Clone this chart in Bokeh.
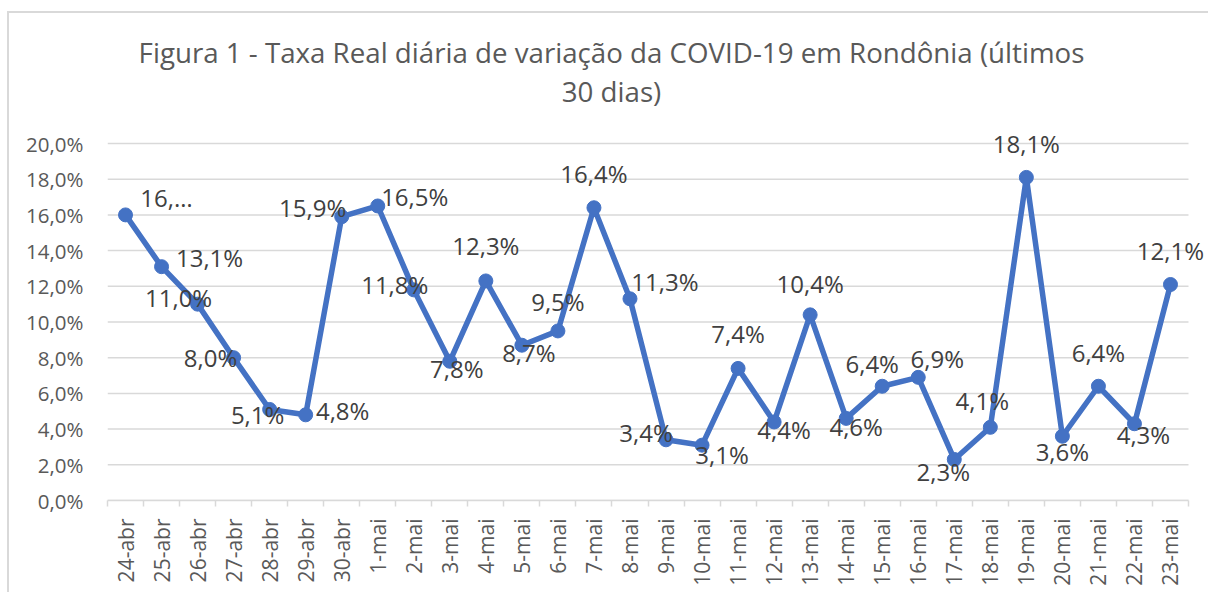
from bokeh.plotting import figure
from bokeh.models import (ColumnDataSource, FixedTicker, Range1d, LabelSet, Label,
                          InlineStyleSheet)
from bokeh.core.properties import value
from bokeh.embed import file_html
from bokeh.resources import INLINE

# ---- data ----
dates = ["24-abr", "25-abr", "26-abr", "27-abr", "28-abr", "29-abr", "30-abr",
         "1-mai", "2-mai", "3-mai", "4-mai", "5-mai", "6-mai", "7-mai", "8-mai",
         "9-mai", "10-mai", "11-mai", "12-mai", "13-mai", "14-mai", "15-mai",
         "16-mai", "17-mai", "18-mai", "19-mai", "20-mai", "21-mai", "22-mai", "23-mai"]
taxa = [16.0, 13.1, 11.0, 8.0, 5.1, 4.8, 15.9, 16.5, 11.8, 7.8, 12.3, 8.7, 9.5, 16.4,
        11.3, 3.4, 3.1, 7.4, 4.4, 10.4, 4.6, 6.4, 6.9, 2.3, 4.1, 18.1, 3.6, 6.4, 4.3, 12.1]
y_ticks = [0, 2, 4, 6, 8, 10, 12, 14, 16, 18, 20]
title_lines = ["Figura 1 - Taxa Real diária de variação da COVID-19 em Rondônia (últimos",
               "30 dias)"]

# data-label placement (screen-pixel offsets from each point; negative dy = above)
label_dx = [41, 48, -19, -23, -12, 37, -29, 37, -19, 7, 0, 7, 0, 0, 35,
            -20, 20, 0, 10, 0, 10, -10, 19, -11, -8, 0, 0, 0, 9, 0]
label_dy = [-17, -9, -7, 0, 5, -4, -9, -9, -5, 7, -35, 7, -29, -34, -17,
            -7, 9, -35, 8, -31, 8, -23, -19, 12, -27, -34, 15, -34, 11, -34]

def fmt(v):
    return f"{v:.1f}".replace(".", ",") + "%"

labels = [fmt(v) for v in taxa]
labels[0] = "16,\u2026"  # truncated label as in the original

FONT = "Open Sans"
GREY = "#595959"
BLUE = "#4472C4"

# ---- geometry (pixels) ----
W, H = 1208, 592
LEFT, BOTTOM = 107, 92          # plot-area left edge / space below it
PLOT_W = 1081                   # width of the category area
PLOT_H = 357                    # height of the 0..20 % area
n = len(dates)
px_x = PLOT_W / n               # pixels per category
px_y = PLOT_H / y_ticks[-1]     # pixels per percentage point
frame_w = W - LEFT
frame_h = H - BOTTOM

xs = [i + 0.5 for i in range(n)]
src = ColumnDataSource(dict(x=xs, y=taxa, lab=labels, dx=label_dx,
                            dy=[-d for d in label_dy]))

# light chart-area border (left and top edges, as in the cropped original)
border_css = InlineStyleSheet(css="""
:host::after {
  content: "";
  position: absolute;
  left: 7px; top: 11px; right: 0; bottom: 0;
  border-left: 2px solid #D9D9D9;
  border-top: 2px solid #D9D9D9;
  pointer-events: none;
}
""")

p = figure(width=W, height=H, output_backend="svg", toolbar_location=None,
           title=None,
           x_range=Range1d(0, frame_w / px_x), y_range=Range1d(0, frame_h / px_y),
           min_border_left=LEFT, min_border_right=0, min_border_top=0,
           min_border_bottom=BOTTOM)
p.stylesheets = [border_css]

p.outline_line_color = None
p.background_fill_color = "white"
p.border_fill_color = "white"
p.xgrid.grid_line_color = None
p.ygrid.grid_line_color = None

# horizontal gridlines limited to the category area
p.segment(x0=[0] * len(y_ticks), x1=[n] * len(y_ticks), y0=y_ticks, y1=y_ticks,
          line_color="#D9D9D9", line_width=1.5)

# y axis
p.yaxis.ticker = FixedTicker(ticks=y_ticks)
p.yaxis.major_label_overrides = {t: fmt(t) for t in y_ticks}
p.yaxis.axis_line_color = None
p.yaxis.major_tick_line_color = None
p.yaxis.minor_tick_line_color = None
p.yaxis.major_tick_out = 0
p.yaxis.major_label_standoff = 24
p.yaxis.major_label_text_font = FONT
p.yaxis.major_label_text_font_size = "20.5px"
p.yaxis.major_label_text_color = GREY

# x axis
p.xaxis.bounds = (0, n)
p.xaxis.ticker = FixedTicker(ticks=xs, minor_ticks=list(range(n + 1)))
p.xaxis.major_label_overrides = {x: d for x, d in zip(xs, dates)}
p.xaxis.major_label_orientation = 3.14159265 / 2
p.xaxis.axis_line_color = "#D9D9D9"
p.xaxis.axis_line_width = 1.5
p.xaxis.major_tick_line_color = None
p.xaxis.major_tick_out = 0
p.xaxis.major_tick_in = 0
p.xaxis.minor_tick_line_color = "#D9D9D9"
p.xaxis.minor_tick_line_width = 1.5
p.xaxis.minor_tick_out = 6
p.xaxis.minor_tick_in = 0
p.xaxis.major_label_standoff = 12
p.xaxis.major_label_text_font = FONT
p.xaxis.major_label_text_font_size = "21px"
p.xaxis.major_label_text_color = GREY

p.line("x", "y", source=src, line_color=BLUE, line_width=5.5, line_join="round")
p.scatter("x", "y", source=src, size=14, fill_color=BLUE, line_color=BLUE)

lbls = LabelSet(x="x", y="y", text="lab", source=src, x_offset="dx", y_offset="dy",
                text_font=value(FONT), text_font_size="24px", text_color="#404040",
                text_align="center", text_baseline="middle")
p.add_layout(lbls)

# chart title (two centred lines), placed in pixel terms above the plot area
title_cx = 611                  # page x of the title centre
title_cy = [51, 90]             # page y of each line's centre
for txt, cy in zip(title_lines, title_cy):
    p.add_layout(Label(x=(title_cx - LEFT) / px_x, y=(frame_h - cy) / px_y, text=txt,
                       text_font=FONT, text_font_size="27.7px", text_color=GREY,
                       text_align="center", text_baseline="middle"))

open("out.html", "w").write(file_html(p, INLINE))
